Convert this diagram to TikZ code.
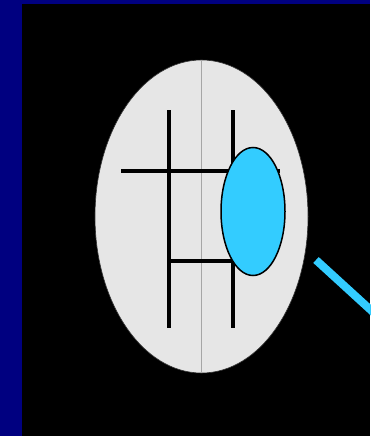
\documentclass[tikz,border=0pt]{standalone}
\usetikzlibrary{shapes.geometric}
\definecolor{navyband}{HTML}{000080}
\definecolor{bulb}{HTML}{E6E6E6}
\definecolor{cyanish}{HTML}{33CCFF}
\tikzset{
  bar/.style={line width=4pt, black},
  midline/.style={line width=0.8pt, color=gray!70},
}
\begin{document}
\begin{tikzpicture}[x=1pt,y=-1pt]
\useasboundingbox (0,0) rectangle (370,436);
\fill[navyband] (0,0) rectangle (370,436);
\fill[black] (21.5,4) rectangle (370,436);
\node[ellipse, fill=bulb, draw=gray!40!black, line width=0.6pt, minimum width=213pt, minimum height=313pt, inner sep=0pt] (big) at (201.5,216.5) {};
\coordinate (mt) at (201,60);
\coordinate (mb) at (201,373);
\draw[midline] (mt) -- (mb);
\coordinate (lt) at (168.5,110);
\coordinate (lb) at (168.5,328);
\coordinate (rt) at (233,110);
\coordinate (rb) at (233,328);
\coordinate (hl) at (121,170.5);
\coordinate (hr) at (280,170.5);
\coordinate (bl) at (168.5,261);
\coordinate (br) at (233,261);
\draw[bar] (lt) -- (lb);
\draw[bar] (rt) -- (rb);
\draw[bar] (hl) -- (hr);
\draw[bar] (bl) -- (br);
\node[ellipse, fill=cyanish, draw=black, line width=1.5pt, minimum width=64pt, minimum height=128pt, inner sep=0pt] (lens) at (253,211.5) {};
\coordinate (hs) at (316,260);
\coordinate (he) at (374,313);
\draw[cyanish, line width=8pt] (hs) -- (he);
\end{tikzpicture}
\end{document}
